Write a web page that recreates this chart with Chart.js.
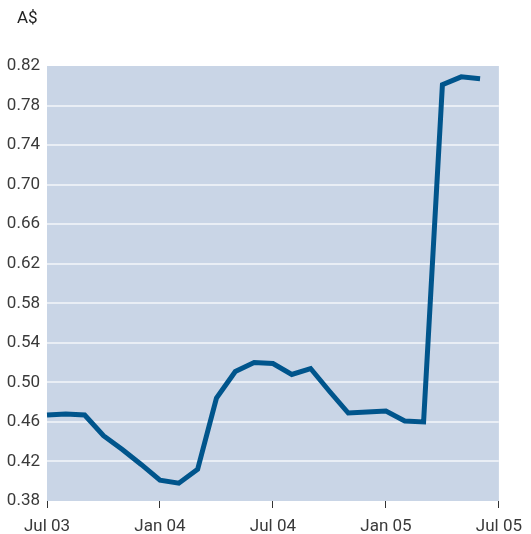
<!DOCTYPE html>
<html>
<head>
<meta charset="utf-8">
<script src="https://cdn.jsdelivr.net/npm/chart.js@4/dist/chart.umd.min.js"></script>
<style>
    body { margin: 0; background: #fff; }
    #wrap { position: relative; width: 531px; height: 534px; }
    #unit { position: absolute; left: 17px; top: 7px; font: 17px Roboto, sans-serif; color: #222; }
</style>
</head>
<body>
<div id="wrap">
    <div id="unit">A$</div>
    <canvas id="priceChart"></canvas>
</div>
<script>
// monthly labels, Jul 03 .. Jul 05
const months = ['Jul 03', 'Aug 03', 'Sep 03', 'Oct 03', 'Nov 03', 'Dec 03',
    'Jan 04', 'Feb 04', 'Mar 04', 'Apr 04', 'May 04', 'Jun 04',
    'Jul 04', 'Aug 04', 'Sep 04', 'Oct 04', 'Nov 04', 'Dec 04',
    'Jan 05', 'Feb 05', 'Mar 05', 'Apr 05', 'May 05', 'Jun 05', 'Jul 05'];
const prices = [0.467, 0.468, 0.467, 0.446, 0.432, 0.417,
    0.401, 0.398, 0.412, 0.484, 0.511, 0.520,
    0.519, 0.508, 0.514, 0.491, 0.469, 0.470,
    0.471, 0.461, 0.460, 0.801, 0.809, 0.807];
const yTicks = [0.38, 0.42, 0.46, 0.50, 0.54, 0.58, 0.62, 0.66, 0.70, 0.74, 0.78, 0.82];

const plotBg = {
    id: 'plotBg',
    beforeDraw(chart) {
        const { ctx, chartArea: a } = chart;
        ctx.save();
        ctx.fillStyle = '#c9d5e6';
        ctx.fillRect(a.left, a.top, a.right - a.left, a.bottom - a.top);
        ctx.restore();
    }
};

const tickFont = { family: 'Roboto, sans-serif', size: 17 };

new Chart(document.getElementById('priceChart'), {
    type: 'line',
    data: {
        labels: months,
        datasets: [{
            data: prices,
            borderColor: '#00558c',
            borderWidth: 5,
            pointRadius: 0,
            tension: 0,
            fill: false
        }]
    },
    options: {
        responsive: true,
        maintainAspectRatio: false,
        animation: false,
        layout: { padding: { top: 66, right: 32, left: 0, bottom: 0 } },
        plugins: { legend: { display: false }, tooltip: { enabled: false } },
        scales: {
            x: {
                type: 'category',
                offset: false,
                border: { display: false },
                grid: {
                    drawOnChartArea: false,
                    tickLength: 7,
                    tickColor: ctx => ctx.index % 6 === 0 ? '#333' : 'transparent'
                },
                ticks: {
                    autoSkip: false,
                    maxRotation: 0,
                    padding: 9,
                    color: '#3a3a3a',
                    font: tickFont,
                    callback: (v, i) => i % 6 === 0 ? months[i] : ''
                },
                afterFit: s => { s.height = 33; }
            },
            y: {
                min: 0.38,
                max: 0.82,
                border: { display: false },
                afterBuildTicks: s => { s.ticks = yTicks.map(v => ({ value: v })); },
                grid: {
                    drawTicks: false,
                    lineWidth: 2,
                    color: ctx => (ctx.tick && (ctx.tick.value <= 0.38 || ctx.tick.value >= 0.82)) ? 'transparent' : '#e9eef5'
                },
                ticks: {
                    padding: 7,
                    color: '#3a3a3a',
                    font: tickFont,
                    callback: v => v.toFixed(2)
                },
                afterFit: s => { s.width = 47; }
            }
        }
    },
    plugins: [plotBg]
});
</script>
</body>
</html>
